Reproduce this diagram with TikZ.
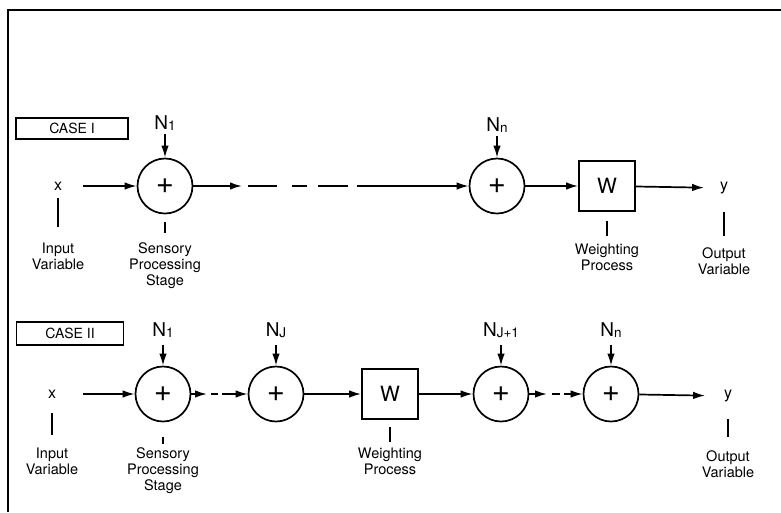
\documentclass[tikz,border=0pt]{standalone}
\usepackage{fontspec}
\setmainfont{TeX Gyre Heros}
\usetikzlibrary{arrows.meta}
\newcommand{\nsub}[1]{\raisebox{-0.6pt}{\fontsize{13.5}{15}\selectfont #1}}

\begin{document}
\begin{tikzpicture}[x=1pt,y=-1pt,line width=1.7pt,
  flow/.style={-{Latex[length=12pt,width=7.5pt]}},
  sum/.style={draw,circle,minimum size=55pt,inner sep=0pt,font=\fontsize{31}{32}\selectfont},
  wbox/.style={draw,minimum width=56pt,minimum height=50pt,inner sep=0pt,font=\fontsize{21}{22}\selectfont},
  casebox/.style={draw,line width=1.3pt,inner sep=0pt,font=\fontsize{14}{16}\selectfont},
  noise/.style={inner sep=0pt,font=\fontsize{19}{22}\selectfont},
  var/.style={inner sep=0pt,font=\fontsize{16}{18}\selectfont},
  capt/.style={inner sep=0pt,anchor=north,align=center,font=\fontsize{14.5}{16}\selectfont},
  lead/.style 2 args={shorten <=#1,shorten >=#2}]
\useasboundingbox (0,0) rectangle (781,512);
\draw (781,10)--(8,10)--(8,512);
\begin{scope}
\node[casebox,minimum width=112pt,minimum height=21pt] (case1) at (72,128.5) {CASE I};
\node[var] (x1) at (58,186) {x};
\node[sum] (s1) at (165,186) {+};
\node[noise] (n1) at (165,123) {N\nsub{1}};
\node[sum] (sn) at (497,186) {+};
\node[noise] (nn) at (497,125) {N\nsub{n}};
\node[wbox] (w1) at (607,186) {W};
\node[var] (y1) at (724,188) {y};
\coordinate (g1) at (242,186);
\coordinate (g2) at (248,186);
\coordinate (g3) at (357,186);
\node[capt] (in1) at (58,242) {Input\\Variable};
\node[capt] (se1) at (165,242) {Sensory\\Processing\\Stage};
\node[capt] (we1) at (607,243) {Weighting\\Process};
\node[capt] (ou1) at (724,247) {Output\\Variable};
\end{scope}
\draw[flow,shorten <=20pt] (x1)--(s1);
\draw[flow] (s1)--(g1);
\draw[dash pattern=on 29pt off 15pt on 15pt off 11pt on 30pt off 20pt] (g2)--(g3);
\draw[flow] (g3)--(sn);
\draw[flow] (sn)--(w1);
\draw[flow,shorten >=15pt] (w1)--(y1);
\draw[flow,shorten <=3pt] (n1)--(s1);
\draw[flow,shorten <=3pt] (nn)--(sn);
\draw[lead={7pt}{15pt}] (x1)--(in1);
\draw[lead={8pt}{9pt}] (s1)--(se1);
\draw[lead={9pt}{7pt}] (w1)--(we1);
\draw[lead={17pt}{11pt}] (y1)--(ou1);
\begin{scope}
\node[casebox,minimum width=107pt,minimum height=23pt] (case2) at (70,333.5) {CASE II};
\node[var] (x2) at (52,394) {x};
\node[sum] (s2) at (163,394) {+};
\node[noise] (n2) at (163,330) {N\nsub{1}};
\node[sum] (sj) at (276,394) {+};
\node[noise] (nj) at (276,330) {N\nsub{J}};
\node[wbox] (w2) at (390,394) {W};
\node[sum] (sk) at (501,394) {+};
\node[noise] (nk) at (501,330) {N\nsub{J+1}};
\node[sum] (sm) at (611,394) {+};
\node[noise] (nm) at (611,330) {N\nsub{n}};
\node[var] (y2) at (728,396) {y};
\coordinate (h1) at (207,394);
\coordinate (h2) at (211,394);
\coordinate (h3) at (228,394);
\coordinate (k1) at (547,394);
\coordinate (k2) at (552,394);
\coordinate (k3) at (565,394);
\node[capt] (in2) at (52,447) {Input\\Variable};
\node[capt] (se2) at (163,447) {Sensory\\Processing\\Stage};
\node[capt] (we2) at (390,447) {Weighting\\Process};
\node[capt] (ou2) at (728,450) {Output\\Variable};
\end{scope}
\draw[flow,shorten <=26pt] (x2)--(s2);
\draw[flow] (s2)--(h1);
\draw[dash pattern=on 7pt off 4pt] (h2)--(h3);
\draw[flow] (h3)--(sj);
\draw[flow] (sj)--(w2);
\draw[flow] (w2)--(sk);
\draw[flow] (sk)--(k1);
\draw[dash pattern=on 8pt off 4pt] (k2)--(k3);
\draw[flow] (k3)--(sm);
\draw[flow,shorten >=18pt] (sm)--(y2);
\draw[flow,shorten <=7pt] (n2)--(s2);
\draw[flow,shorten <=7pt] (nj)--(sj);
\draw[flow,shorten <=7pt] (nk)--(sk);
\draw[flow,shorten <=7pt] (nm)--(sm);
\draw[lead={14pt}{12pt}] (x2)--(in2);
\draw[lead={15pt}{3pt}] (s2)--(se2);
\draw[lead={7pt}{5pt}] (w2)--(we2);
\draw[lead={16pt}{13pt}] (y2)--(ou2);
\end{tikzpicture}
\end{document}
